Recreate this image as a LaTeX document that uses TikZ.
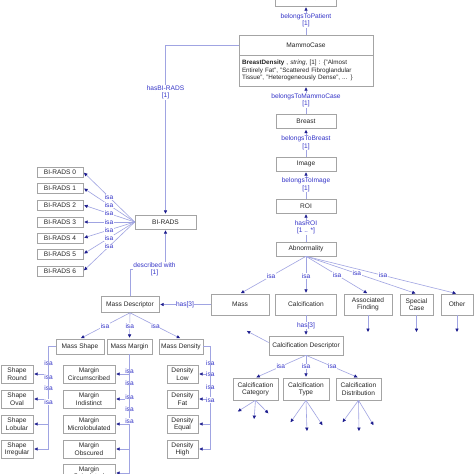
\documentclass[tikz,border=0pt]{standalone}
\usepackage{fontspec}
\setmainfont{Liberation Sans}
\usetikzlibrary{arrows.meta}
\definecolor{ln}{HTML}{A0A4E2}
\definecolor{tipc}{HTML}{1C1C8E}
\definecolor{lbl}{HTML}{3434C8}
\definecolor{bx}{HTML}{A4A4A4}
\begin{document}
\begin{tikzpicture}[x=1pt,y=-1pt,
 box/.style={draw=bx, fill=white, inner sep=0pt, align=center, text=black!85,
   font=\fontsize{6.6}{7.4}\selectfont, line width=0.6pt},
 sz/.style 2 args={minimum width=#1pt, minimum height=#2pt},
 con/.style={draw=ln, line width=0.6pt, -{Triangle[width=3.2pt,length=3.4pt,color=tipc]}, shorten >=1pt},
 lab/.style={text=lbl, font=\fontsize{6.6}{7.5}\selectfont, fill=white, inner sep=0.5pt, align=center},
]
\useasboundingbox (0,0) rectangle (474,474);
\clip (0,0) rectangle (474,474);
\fill[white] (0,0) rectangle (474,474);

% main chain
\node[box,sz={61}{16}] (patient) at (306,-2) {Patient};
\node[box,sz={134}{20}] (mc) at (306,45) {MammoCase};
\node[box,sz={134}{31},align=left,text width=128pt,inner xsep=3pt,font=\fontsize{6.3}{7.6}\selectfont] (mcattr) at (306,70.5)
  {\textbf{BreastDensity} , \textit{string}, [1] : \{"Almost\\Entirely Fat", "Scattered Fibroglandular\\Tissue", "Heterogeneously Dense", ... \}};
\node[box,sz={60}{14}] (breast) at (306,121.5) {Breast};
\node[box,sz={60}{14}] (image) at (306,164) {Image};
\node[box,sz={60}{14}] (roi) at (306,206) {ROI};
\node[box,sz={60}{14}] (abn) at (306,249) {Abnormality};

% abnormality row
\node[box,sz={58}{21}] (mass) at (240,304.5) {Mass};
\node[box,sz={61}{21}] (calc) at (306,304.5) {Calcification};
\node[box,sz={48}{21}] (af) at (368,304.5) {Associated\\Finding};
\node[box,sz={33}{21}] (sc) at (416.5,304.5) {Special\\Case};
\node[box,sz={32}{21}] (other) at (457,304.5) {Other};

% BI-RADS
\node[box,sz={61}{14}] (birads) at (165.5,222) {BI-RADS};
\foreach \i/\y in {0/172,1/188,2/205,3/222,4/238,5/254,6/271}{
  \node[box,sz={46}{10}] (b\i) at (60,\y) {BI-RADS \i};
}

% mass descriptor
\node[box,sz={58}{16}] (md) at (130,304.5) {Mass Descriptor};
\node[box,sz={48}{15}] (mshape) at (80,346.5) {Mass Shape};
\node[box,sz={45}{15}] (mmargin) at (129.5,346.5) {Mass Margin};
\node[box,sz={44}{15}] (mdens) at (181,346.5) {Mass Density};

\node[box,sz={32}{18}] (sround) at (17,374) {Shape\\Round};
\node[box,sz={32}{18}] (soval) at (17,399) {Shape\\Oval};
\node[box,sz={32}{18}] (slob) at (17,424) {Shape\\Lobular};
\node[box,sz={32}{18}] (sirr) at (17,449) {Shape\\Irregular};

\node[box,sz={52}{18}] (mcirc) at (89,374) {Margin\\Circumscribed};
\node[box,sz={52}{18}] (mind) at (89,399) {Margin\\Indistinct};
\node[box,sz={52}{18}] (mmic) at (89,424) {Margin\\Microlobulated};
\node[box,sz={52}{18}] (mobs) at (89,449) {Margin\\Obscured};
\node[box,sz={52}{18}] (mspic) at (89,473) {Margin\\Spiculated};

\node[box,sz={31}{18}] (dlow) at (182.5,374) {Density\\Low};
\node[box,sz={31}{18}] (dfat) at (182.5,399) {Density\\Fat};
\node[box,sz={31}{18}] (deq) at (182.5,424) {Density\\Equal};
\node[box,sz={31}{18}] (dhigh) at (182.5,449) {Density\\High};

% calcification descriptor
\node[box,sz={74}{19}] (cd) at (306,345.5) {Calcification Descriptor};
\node[box,sz={45}{22}] (ccat) at (255.5,389) {Calcification\\Category};
\node[box,sz={46}{22}] (ctype) at (306,389) {Calcification\\Type};
\node[box,sz={45}{22}] (cdist) at (358.5,389) {Calcification\\Distribution};

% free ends
\coordinate (afend) at (368,333);
\coordinate (scend) at (416.5,333);
\coordinate (otend) at (457,333);
\coordinate (cdend) at (246,330.5);
\coordinate (ca1) at (237,412);
\coordinate (ca2) at (254,420);
\coordinate (ca3) at (269,414);
\coordinate (ct1) at (290,423);
\coordinate (ct2) at (307,432);
\coordinate (ct3) at (323,426);
\coordinate (cs1) at (342,423);
\coordinate (cs2) at (359,432);
\coordinate (cs3) at (374,426);

% chain connectors
\draw[con] (mc) -- node[lab]{belongsToPatient\\{}[1]} (patient);
\draw[con] (breast) -- node[lab]{belongsToMammoCase\\{}[1]} (mcattr);
\draw[con] (image) -- node[lab]{belongsToBreast\\{}[1]} (breast);
\draw[con] (roi) -- node[lab]{belongsToImage\\{}[1]} (image);
\draw[con] (abn) -- node[lab]{hasROI\\{}[1 .. *]} (roi);

\draw[con] (mc.west) -| node[lab,pos=0.64]{hasBI-RADS\\{}[1]} (birads.north);
\draw[con] (md.north) -- ++(0,-27) -| node[lab,pos=0.5,xshift=-11pt]{described with\\{}[1]} (birads.south);

\foreach \i in {0,...,6}{
  \draw[con] (birads.west) -- node[lab]{isa} (b\i.east);
}

\draw[con] (abn.south) -- node[lab,pos=.53]{isa} (mass.north);
\draw[con] (abn.south) -- node[lab,pos=.53]{isa} (calc.north);
\draw[con] (abn.south) -- node[lab,pos=.5]{isa} (af.north);
\draw[con] (abn.south) -- node[lab,pos=.46]{isa} (sc.north);
\draw[con] (abn.south) -- node[lab,pos=.51]{isa} (other.north);

\draw[con] (af.south) -- (afend);
\draw[con] (sc.south) -- (scend);
\draw[con] (other.south) -- (otend);

\draw[con] (mass) -- node[lab]{has[3]} (md);
\draw[con] (calc) -- node[lab]{has[3]} (cd);
\draw[con] ([yshift=3pt]cd.west) -- (cdend);

\draw[con] (cd.south) -- node[lab]{isa} (ccat.north);
\draw[con] (cd.south) -- node[lab]{isa} (ctype.north);
\draw[con] (cd.south) -- node[lab]{isa} (cdist.north);

\foreach \e in {ca1,ca2,ca3}{\draw[con] (ccat.south) -- (\e);}
\foreach \e in {ct1,ct2,ct3}{\draw[con] (ctype.south) -- (\e);}
\foreach \e in {cs1,cs2,cs3}{\draw[con] (cdist.south) -- (\e);}

\draw[con] (md.south) -- node[lab]{isa} (mshape.north);
\draw[con] (md.south) -- node[lab]{isa} (mmargin.north);
\draw[con] (md.south) -- node[lab]{isa} (mdens.north);

% shape
\draw[con] (mshape.west) -- ++(-7,0) |- node[lab,pos=.3]{isa} (sround.east);
\draw[con] (mshape.west) -- ++(-7,0) |- node[lab,pos=.29]{isa} (soval.east);
\draw[con] (mshape.west) -- ++(-7,0) |- node[lab,pos=.27]{isa} (slob.east);
\draw[con] (mshape.west) -- ++(-7,0) |- node[lab,pos=.27]{isa} (sirr.east);

% margin
\draw[con] (mmargin.south) |- node[lab,pos=.43]{isa} (mcirc.east);
\draw[con] (mmargin.south) |- node[lab,pos=.32]{isa} (mind.east);
\draw[con] (mmargin.south) |- node[lab,pos=.31]{isa} (mmic.east);
\draw[con] (mmargin.south) |- node[lab,pos=.29]{isa} (mobs.east);
\draw[con] (mmargin.south) |- node[lab,pos=.28]{isa} (mspic.east);

% density
\draw[con] (mdens.east) -- ++(7,0) |- node[lab,pos=.3]{isa} (dlow.east);
\draw[con] (mdens.east) -- ++(7,0) |- node[lab,pos=.26]{isa} (dfat.east);
\draw[con] (mdens.east) -- ++(7,0) |- node[lab,pos=.26]{isa} (deq.east);
\draw[con] (mdens.east) -- ++(7,0) |- node[lab,pos=.26]{isa} (dhigh.east);
\end{tikzpicture}
\end{document}
